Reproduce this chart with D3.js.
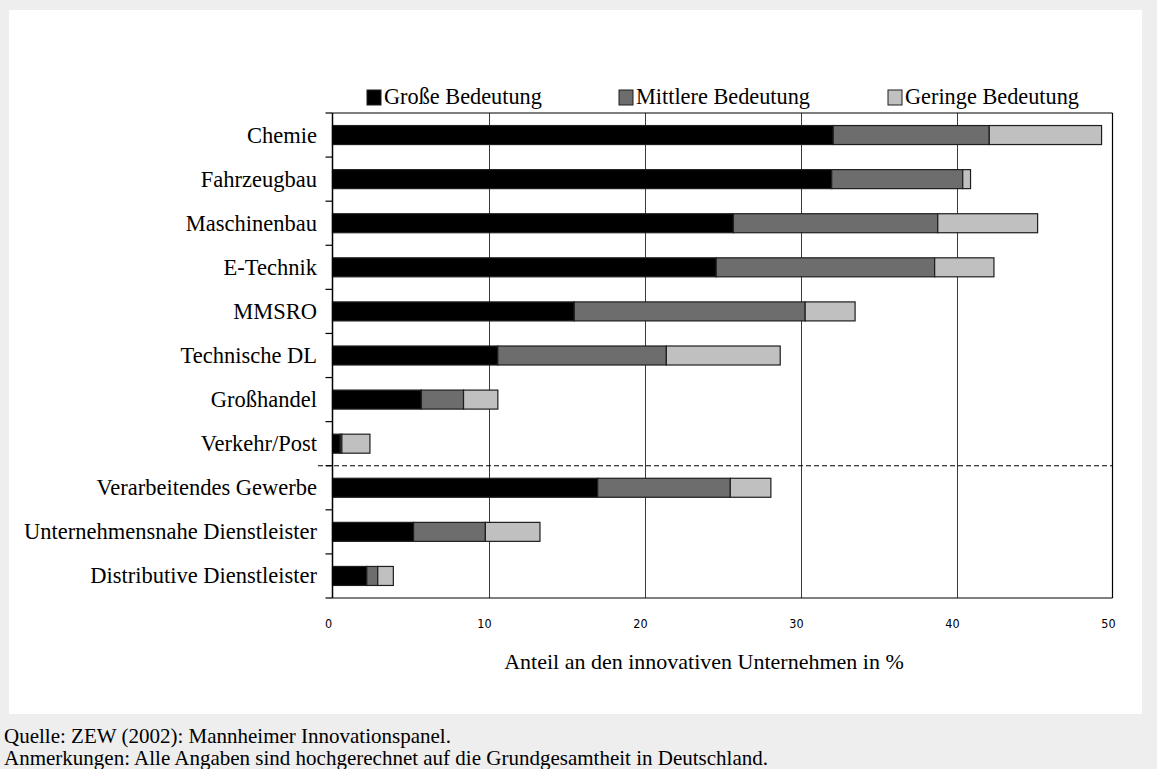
<!DOCTYPE html>
<html><head><meta charset="utf-8">
<script src="https://cdn.jsdelivr.net/npm/d3@7"></script>
<style>
html,body{margin:0;padding:0;background:#eeeeee;}
svg{display:block;}
</style></head>
<body>
<svg id="chart" width="1157" height="769"></svg>
<script>
const categories = ["Chemie","Fahrzeugbau","Maschinenbau","E-Technik","MMSRO","Technische DL","Großhandel","Verkehr/Post","Verarbeitendes Gewerbe","Unternehmensnahe Dienstleister","Distributive Dienstleister"];
const seriesNames = ["Große Bedeutung","Mittlere Bedeutung","Geringe Bedeutung"];
const grosse   = [32.1, 32.0, 25.7, 24.6, 15.5, 10.6, 5.7, 0.5, 17.0, 5.2, 2.2];
const mittlere = [10.0,  8.4, 13.1, 14.0, 14.8, 10.8, 2.7, 0.1,  8.5, 4.6, 0.7];
const geringe  = [ 7.2,  0.5,  6.4,  3.8,  3.2,  7.3, 2.2, 1.8,  2.6, 3.5, 1.0];
const xTicks = [0, 10, 20, 30, 40, 50];
const xTitle = "Anteil an den innovativen Unternehmen in %";
const notes = ["Quelle: ZEW (2002): Mannheimer Innovationspanel.",
               "Anmerkungen: Alle Angaben sind hochgerechnet auf die Grundgesamtheit in Deutschland."];
const colors = ["#000000","#6d6d6d","#c0c0c0"];

const svg = d3.select("#chart");
const serif = "'Liberation Serif','Times New Roman',serif";

// white panel
svg.append("rect").attr("x",9).attr("y",10).attr("width",1133).attr("height",704).attr("fill","#ffffff");

const L = 332.5, R = 1112.5, T = 113, B = 598;
const x = d3.scaleLinear().domain([0,50]).range([L,R]);
const p = 0.569;
const y = d3.scaleBand().domain(categories).range([T,B]).paddingInner(p).paddingOuter(p/2);
const step = y.step();

// gridlines
svg.append("g").selectAll("line").data(xTicks.filter(d=>d>0 && d<50)).join("line")
  .attr("x1",d=>Math.round(x(d))+0.5).attr("x2",d=>Math.round(x(d))+0.5)
  .attr("y1",T).attr("y2",B).attr("stroke","#3a3a3a").attr("stroke-width",1);

// stacked data
const rows = categories.map((c,i)=>({cat:c, Große:grosse[i], Mittlere:mittlere[i], Geringe:geringe[i]}));
const keys = ["Große","Mittlere","Geringe"];
const stack = d3.stack().keys(keys)(rows);

svg.append("g").selectAll("g").data(stack).join("g")
  .attr("fill",(d,i)=>colors[i])
  .selectAll("rect").data(d=>d).join("rect")
  .attr("x",d=>x(d[0]))
  .attr("y",d=>y(d.data.cat))
  .attr("width",d=>Math.max(0,x(d[1])-x(d[0])))
  .attr("height",y.bandwidth())
  .attr("stroke","#1e1e1e").attr("stroke-width",1.2);

// frame
const frame = svg.append("g").attr("fill","none").attr("stroke","#000");
frame.append("line").attr("x1",L).attr("x2",L).attr("y1",T).attr("y2",B).attr("stroke-width",1.5);
frame.append("line").attr("x1",R).attr("x2",R).attr("y1",T).attr("y2",B).attr("stroke-width",1.2);
frame.append("line").attr("x1",L).attr("x2",R).attr("y1",T).attr("y2",T).attr("stroke-width",1.2);
frame.append("line").attr("x1",L).attr("x2",R).attr("y1",B).attr("y2",B).attr("stroke-width",1.2);

// category boundary ticks
const bounds = d3.range(categories.length+1).map(i=>T+i*step);
svg.append("g").selectAll("line").data(bounds).join("line")
  .attr("x1",L-7).attr("x2",L).attr("y1",d=>d).attr("y2",d=>d)
  .attr("stroke","#000").attr("stroke-width",1.2);

// dashed separator between Verkehr/Post and Verarbeitendes Gewerbe
const sepY = T + 8*step;
svg.append("line").attr("x1",318).attr("x2",R).attr("y1",sepY).attr("y2",sepY)
  .attr("stroke","#000").attr("stroke-width",1.2).attr("stroke-dasharray","5,3");

// category labels
svg.append("g").selectAll("text").data(categories).join("text")
  .attr("x",317).attr("y",d=>y(d)+y.bandwidth()/2)
  .attr("text-anchor","end").attr("dominant-baseline","central")
  .attr("font-family",serif).attr("font-size",22.5).attr("fill","#000")
  .text(d=>d);

// x tick labels
svg.append("g").selectAll("text").data(xTicks).join("text")
  .attr("x",d=>x(d)-4).attr("y",623)
  .attr("text-anchor","middle").attr("dominant-baseline","central")
  .attr("font-family","'DejaVu Sans Condensed','Liberation Sans Narrow',sans-serif")
  .attr("font-size",12.5).attr("fill","#000")
  .text(d=>d);

// x title
svg.append("text").attr("x",704).attr("y",661)
  .attr("text-anchor","middle").attr("dominant-baseline","central")
  .attr("font-family",serif).attr("font-size",22).attr("fill","#000").text(xTitle);

// legend
const legX = [367, 619, 888];
const leg = svg.append("g").selectAll("g").data(seriesNames).join("g")
  .attr("transform",(d,i)=>`translate(${legX[i]},90)`);
leg.append("rect").attr("width",14).attr("height",15)
  .attr("fill",(d,i)=>colors[i]).attr("stroke","#1e1e1e").attr("stroke-width",1);
leg.append("text").attr("x",17).attr("y",6).attr("dominant-baseline","central")
  .attr("font-family",serif).attr("font-size",22.3).attr("fill","#000").text(d=>d);

// notes
svg.append("g").selectAll("text").data(notes).join("text")
  .attr("x",4).attr("y",(d,i)=>736+i*22).attr("dominant-baseline","central")
  .attr("font-family",serif).attr("font-size",21).attr("fill","#000").text(d=>d);
</script>
</body></html>
